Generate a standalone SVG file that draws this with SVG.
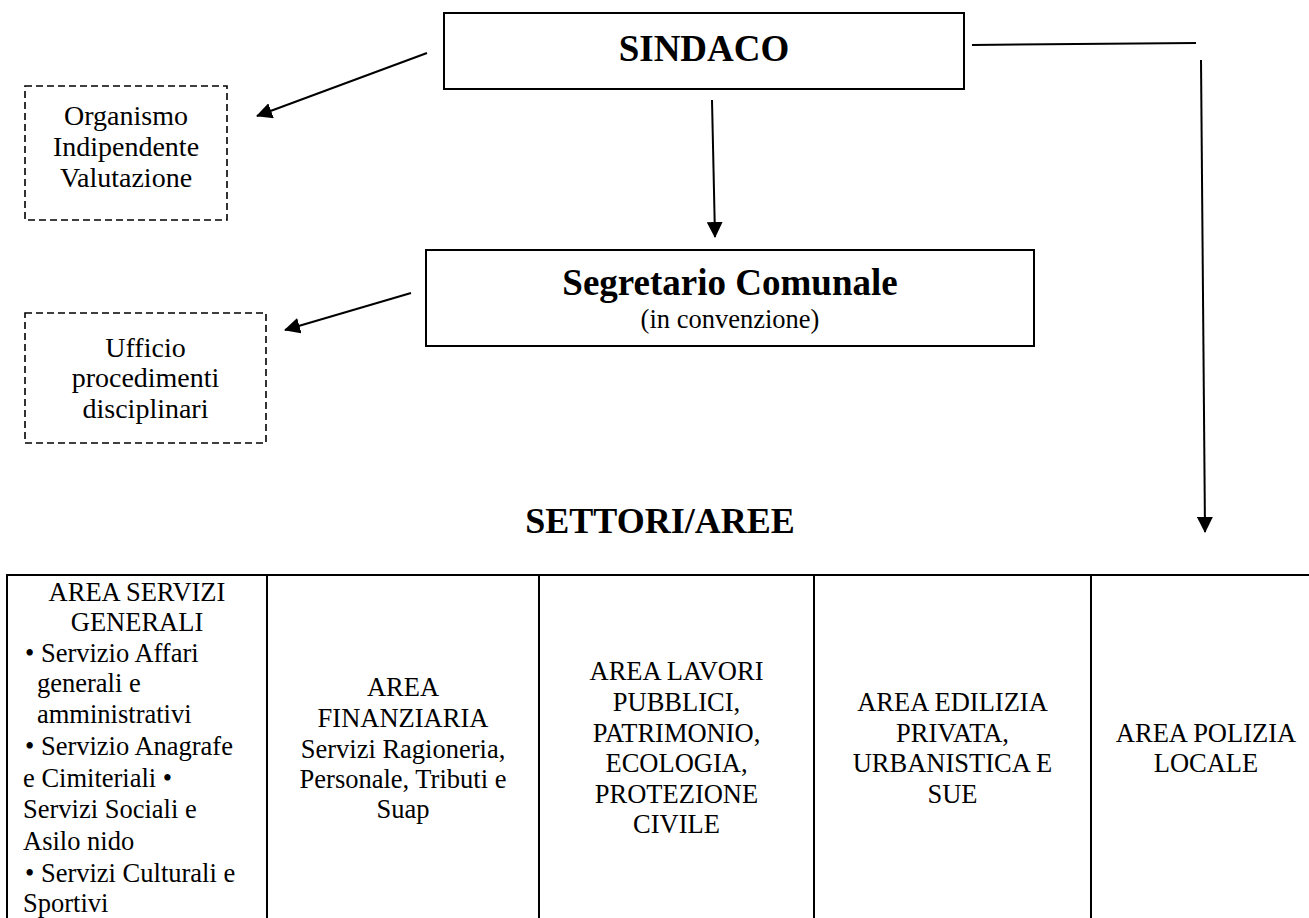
<svg xmlns="http://www.w3.org/2000/svg" width="1309" height="918" viewBox="0 0 1309 918">
<style>
text{font-family:"Liberation Serif","Times New Roman",serif;fill:#000}
.b{font-weight:bold}
.c{text-anchor:middle}
.box{fill:#fff;stroke:#000;stroke-width:2}
.dash{fill:#fff;stroke:#000;stroke-width:1.6;stroke-dasharray:7 4}
.ln{fill:none;stroke:#000;stroke-width:2}
.t26{font-size:26.5px}
.t28{font-size:28px}
</style>
<defs>
<marker id="ah" markerUnits="userSpaceOnUse" markerWidth="16" markerHeight="16" viewBox="0 -8 16 16" refX="15" refY="0" orient="auto">
<path d="M0,-8 L16,0 L0,8 z" fill="#000"/>
</marker>
</defs>
<rect width="1309" height="918" fill="#fff"/>

<g id="sindaco">
<rect class="box" x="444" y="13" width="520" height="76"/>
<text class="b c" x="704" y="61" font-size="37">SINDACO</text>
</g>

<g id="oiv">
<rect class="dash" x="25" y="86" width="202" height="134"/>
<text class="c t28" x="126" y="125">Organismo</text>
<text class="c t28" x="126" y="156">Indipendente</text>
<text class="c t28" x="126" y="187">Valutazione</text>
</g>

<g id="segretario">
<rect class="box" x="426" y="250" width="608" height="96"/>
<text class="b c" x="730" y="295" font-size="37">Segretario Comunale</text>
<text class="c t26" x="730" y="328">(in convenzione)</text>
</g>

<g id="ufficio">
<rect class="dash" x="25" y="313" width="241" height="130"/>
<text class="c t28" x="145.5" y="357">Ufficio</text>
<text class="c t28" x="145.5" y="387">procedimenti</text>
<text class="c t28" x="145.5" y="418">disciplinari</text>
</g>

<g id="titolo">
<text class="b c" x="660" y="533" font-size="36">SETTORI/AREE</text>
</g>

<g id="connectors">
<line class="ln" x1="427" y1="53" x2="257" y2="116" marker-end="url(#ah)"/>
<line class="ln" x1="712" y1="100" x2="715" y2="237" marker-end="url(#ah)"/>
<line class="ln" x1="411" y1="293" x2="285" y2="330" marker-end="url(#ah)"/>
<line class="ln" x1="972" y1="45" x2="1196" y2="43"/>
<line class="ln" x1="1201" y1="60" x2="1205" y2="532" marker-end="url(#ah)"/>
</g>

<g id="tabella">
<line class="ln" x1="7" y1="575" x2="1309" y2="575"/>
<line class="ln" x1="7" y1="574" x2="7" y2="918"/>
<line class="ln" x1="267" y1="574" x2="267" y2="918"/>
<line class="ln" x1="539" y1="574" x2="539" y2="918"/>
<line class="ln" x1="814" y1="574" x2="814" y2="918"/>
<line class="ln" x1="1091" y1="574" x2="1091" y2="918"/>
</g>

<g id="area-servizi-generali" class="t26">
<text class="c" x="137" y="601">AREA SERVIZI</text>
<text class="c" x="137" y="631">GENERALI</text>
<text x="25" y="662">• Servizio Affari</text>
<text x="37" y="692">generali e</text>
<text x="37" y="723">amministrativi</text>
<text x="25" y="755">• Servizio Anagrafe</text>
<text x="23" y="787">e Cimiteriali •</text>
<text x="23" y="818">Servizi Sociali e</text>
<text x="23" y="850">Asilo nido</text>
<text x="25" y="882">• Servizi Culturali e</text>
<text x="23" y="912">Sportivi</text>
</g>

<g id="area-finanziaria" class="t26 c">
<text class="c" x="403" y="696">AREA</text>
<text class="c" x="403" y="727">FINANZIARIA</text>
<text class="c" x="403" y="758">Servizi Ragioneria,</text>
<text class="c" x="403" y="788">Personale, Tributi e</text>
<text class="c" x="403" y="818">Suap</text>
</g>

<g id="area-lavori-pubblici" class="t26">
<text class="c" x="676.5" y="680">AREA LAVORI</text>
<text class="c" x="676.5" y="711">PUBBLICI,</text>
<text class="c" x="676.5" y="742">PATRIMONIO,</text>
<text class="c" x="676.5" y="772">ECOLOGIA,</text>
<text class="c" x="676.5" y="803">PROTEZIONE</text>
<text class="c" x="676.5" y="833">CIVILE</text>
</g>

<g id="area-edilizia-privata" class="t26">
<text class="c" x="952.5" y="711">AREA EDILIZIA</text>
<text class="c" x="952.5" y="742">PRIVATA,</text>
<text class="c" x="952.5" y="772">URBANISTICA E</text>
<text class="c" x="952.5" y="803">SUE</text>
</g>

<g id="area-polizia-locale" class="t26">
<text class="c" x="1206" y="742">AREA POLIZIA</text>
<text class="c" x="1206" y="772">LOCALE</text>
</g>
</svg>
